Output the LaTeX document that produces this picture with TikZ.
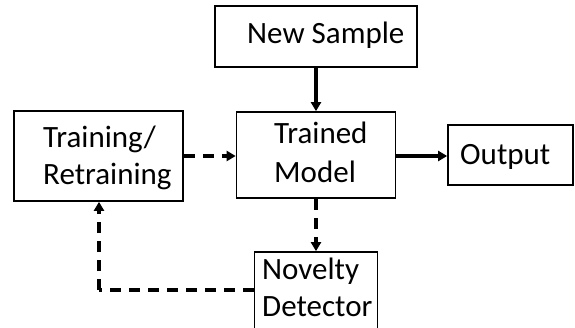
\documentclass[tikz,border=0pt]{standalone}
\usepackage{fontspec}
\setmainfont{Carlito}
\usetikzlibrary{arrows.meta}
\begin{document}
\begin{tikzpicture}[x=1pt,y=-1pt,
  box/.style={draw=black,line width=1.7pt,rectangle,inner sep=0pt},
  lbl/.style={inner sep=0pt,font=\fontsize{31}{39}\selectfont},
  solidarrow/.style={line width=3.4pt,-{Triangle[length=9pt,width=10pt]}},
  dasharrow/.style={line width=3.4pt,dash pattern=on 11pt off 8pt,-{Triangle[length=9pt,width=10pt]}},
  dashline/.style={line width=3.4pt,dash pattern=on 11pt off 8pt}]
\useasboundingbox (0,0) rectangle (575,327);
\clip (0,0) rectangle (575,327);
% boxes
\node[box,minimum width=202pt,minimum height=61pt] (ns) at (316,36.5) {};
\node[box,minimum width=159pt,minimum height=86pt] (tm) at (316,155) {};
\node[box,minimum width=169pt,minimum height=90pt] (tr) at (98.5,156) {};
\node[box,minimum width=125pt,minimum height=60pt] (out) at (510.5,155) {};
\node[box,minimum width=123pt,minimum height=90pt] (nd) at (316,297) {};
% texts
\node[lbl,anchor=base west] (nst) at (247,43) {New Sample};
\node[lbl,anchor=base west] (tmt1) at (274,143) {Trained};
\node[lbl,anchor=base west] (tmt2) at (274,182) {Model};
\node[lbl,anchor=base west] (trt1) at (43,147) {Training/};
\node[lbl,anchor=base west] (trt2) at (43,184) {Retraining};
\node[lbl,anchor=base west] (outt) at (460,164) {Output};
\node[lbl,anchor=base west] (ndt1) at (262,279) {Novelty};
\node[lbl,anchor=base west] (ndt2) at (262,316) {Detector};
% connectors
\draw[solidarrow] (ns.south) -- (tm.north);
\draw[dasharrow] (tr.east |- 0,156) -- (tm.west |- 0,156);
\draw[solidarrow] (tm.east |- 0,156) -- (out.west |- 0,156);
\draw[dasharrow] (tm.south) -- (nd.north);
\coordinate (c) at (99,290);
\draw[dashline] (nd.west |- c) -- (c);
\draw[dasharrow] (c) -- (c |- tr.south);
\end{tikzpicture}
\end{document}
